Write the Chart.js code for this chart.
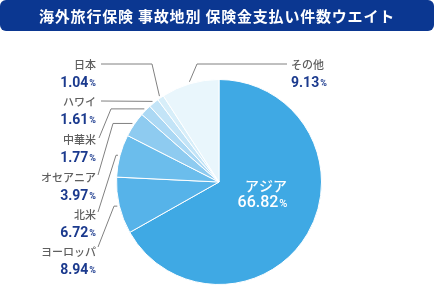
<!DOCTYPE html>
<html><head><meta charset="utf-8">
<script src="https://cdn.jsdelivr.net/npm/chart.js@4.4.1/dist/chart.umd.min.js"></script>
<style>html,body{margin:0;padding:0;background:#fff;}canvas{display:block;}</style>
</head><body>
<canvas id="c" width="434" height="285"></canvas>
<script>
const title = '海外旅行保険 事故地別 保険金支払い件数ウエイト';
const categories = ['アジア','ヨーロッパ','北米','オセアニア','中華米','ハワイ','日本','その他'];
const values = [66.82, 8.94, 6.72, 3.97, 1.77, 1.61, 1.04, 9.13];
const sliceColors = ['#3fa9e4','#56b3e9','#6bbdec','#8ecbf0','#abd8f4','#c3e4f7','#d7eef9','#e9f6fc'];

// label layout (name anchor x/y, side, leader elbow points)
const labelLayout = [
  {inside:true, x:266, y:186},
  {x:96, y:252, start:[98,247], elbow:[114,null]},
  {x:96, y:215, start:[98,212], elbow:[116,null]},
  {x:96, y:178, start:[98,175], elbow:[113,null]},
  {x:96, y:140, start:[99,138], elbow:[111,null]},
  {x:96, y:102, start:[101,101], elbow:null},
  {x:96, y:65,  start:[101,64], elbow:[152,64]},
  {x:291, y:65, left:true, start:[287,64], elbow:[197,64]}
];

const labelPlugin = {
  id:'labels',
  beforeDraw(chart){
    const ctx = chart.ctx;
    ctx.save();
    ctx.fillStyle = '#0b3791';
    ctx.beginPath();
    ctx.roundRect(0,0,434,31,6);
    ctx.fill();
    ctx.fillStyle = '#fff';
    ctx.font = 'bold 15px "Noto Sans CJK JP"';
    ctx.letterSpacing = '0.8px';
    ctx.textAlign = 'center';
    ctx.textBaseline = 'middle';
    ctx.fillText(title, 217, 16);
    ctx.restore();
  },
  afterDraw(chart){
    const ctx = chart.ctx;
    const meta = chart.getDatasetMeta(0);
    ctx.save();
    meta.data.forEach((arc, i) => {
      const L = labelLayout[i];
      const val = values[i].toFixed(2);
      if (L.inside){
        ctx.fillStyle = '#fff';
        ctx.textAlign = 'center';
        ctx.textBaseline = 'middle';
        ctx.font = '500 14px "Noto Sans CJK JP"';
        ctx.fillText(categories[i], L.x, L.y);
        ctx.font = '500 16px Roboto';
        const w1 = ctx.measureText(val).width;
        ctx.font = '500 11px Roboto';
        const w2 = ctx.measureText('%').width;
        const sx = L.x - (w1+w2)/2 - 4;
        ctx.textAlign = 'left';
        ctx.font = '500 16px Roboto';
        ctx.fillText(val, sx, L.y+17);
        ctx.font = '500 11px Roboto';
        ctx.fillText('%', sx+w1+1, L.y+18);
        return;
      }
      // leader line
      const mid = (arc.startAngle + arc.endAngle)/2;
      const r = arc.outerRadius + 2;
      const ex = arc.x + r*Math.cos(mid);
      const ey = arc.y + r*Math.sin(mid);
      ctx.strokeStyle = '#808080';
      ctx.lineWidth = 1;
      ctx.beginPath();
      ctx.moveTo(L.start[0], L.start[1]);
      if (L.elbow){
        const by = L.elbow[1] == null ? ey : L.elbow[1];
        ctx.lineTo(L.elbow[0], by);
      }
      ctx.lineTo(ex, ey);
      ctx.stroke();
      // name
      ctx.textBaseline = 'middle';
      ctx.fillStyle = '#5f5f5f';
      ctx.font = '500 11px "Noto Sans CJK JP"';
      ctx.textAlign = L.left ? 'left' : 'right';
      ctx.fillText(categories[i], L.x, L.y);
      // value
      ctx.fillStyle = '#1b3a8e';
      ctx.font = 'bold 14px Roboto';
      const wv = ctx.measureText(val).width;
      ctx.font = 'bold 9px Roboto';
      const wp = ctx.measureText('%').width;
      let sx = L.left ? L.x : L.x - wv - wp - 1;
      ctx.textAlign = 'left';
      ctx.font = 'bold 14px Roboto';
      ctx.fillText(val, sx, L.y+18);
      ctx.font = 'bold 9px Roboto';
      ctx.fillText('%', sx+wv+1, L.y+19);
    });
    ctx.restore();
  }
};

new Chart(document.getElementById('c'), {
  type:'pie',
  data:{labels:categories, datasets:[{data:values, backgroundColor:sliceColors, borderColor:'#ffffff', borderWidth:1}]},
  options:{
    responsive:false, animation:false,
    layout:{padding:{left:116, right:112, top:79, bottom:0}},
    plugins:{legend:{display:false}, tooltip:{enabled:false}}
  },
  plugins:[labelPlugin]
});
</script>
</body></html>
